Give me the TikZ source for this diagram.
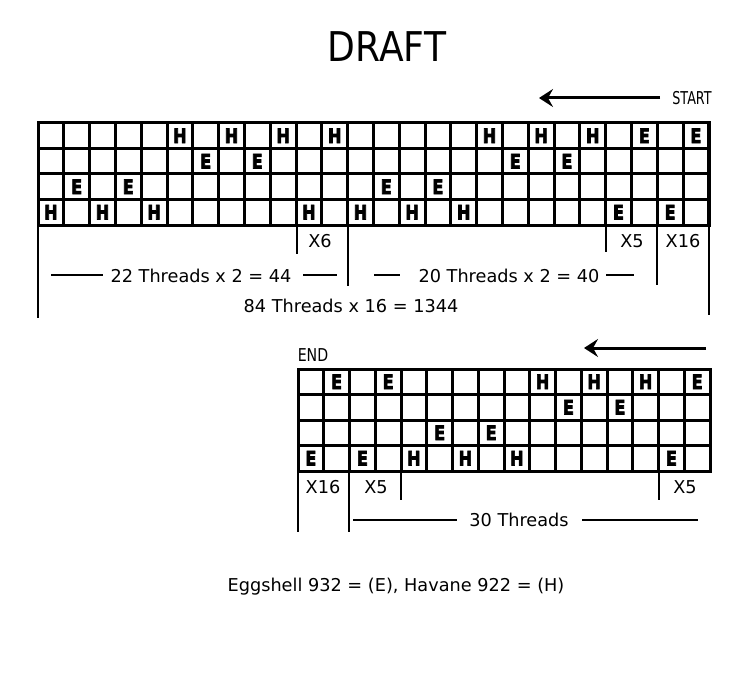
\documentclass[tikz,border=0pt]{standalone}
\usepackage{fontspec}
\setmainfont{DejaVu Sans}
\newfontfamily\blockfont{DejaVu Sans}[BoldFeatures={FakeBold=4}]
\usetikzlibrary{arrows.meta}
\begin{document}
\begin{tikzpicture}[x=1pt,y=-1pt,
  gridline/.style={line width=3pt},
  thin/.style={line width=1.2pt},
  lbl/.style={font=\fontsize{17.7}{20}\selectfont, inner sep=0pt},
  letter/.style={font=\fontsize{20}{20}\selectfont\blockfont\bfseries, inner sep=0pt, xscale=0.8},
  dirarrow/.style={line width=3pt, -{Stealth[length=14pt,width=18pt,inset=5pt]}}]
\useasboundingbox (0,0) rectangle (751,676);
\fill[white] (0,0) rectangle (751,676);
% title
\node[font=\fontsize{41}{44}\selectfont, inner sep=0pt, xscale=0.88] (title) at (387,47) {DRAFT};
\node[lbl, xscale=0.72] (start) at (692,98) {START};
\coordinate (a1s) at (660,98);
\coordinate (a1e) at (539,98);
\draw[dirarrow] (a1s) -- (a1e);
% top grid
\foreach \i in {0,...,26} \draw[gridline] ({38+\i*25.8},123) -- ({38+\i*25.8},225);
\foreach \j in {0,...,4} \draw[gridline] (38,{123+\j*25.5}) -- (709,{123+\j*25.5});
\draw[gridline, line join=miter] (38,123) rectangle (709,225);
\foreach \c/\r/\t in {6/1/H,8/1/H,10/1/H,12/1/H,18/1/H,20/1/H,22/1/H,24/1/E,26/1/E,
  7/2/E,9/2/E,19/2/E,21/2/E,
  2/3/E,4/3/E,14/3/E,16/3/E,
  1/4/H,3/4/H,5/4/H,11/4/H,13/4/H,15/4/H,17/4/H,23/4/E,25/4/E}
  \node[letter] (top-\c-\r) at ({38+(\c-0.5)*25.8},{123+(\r-0.5)*25.5}) {\t};
% top dimension lines
\draw[thin] (38,225) -- (38,318);
\draw[thin] (297,225) -- (297,254);
\draw[thin] (348,225) -- (348,286);
\draw[thin] (606,225) -- (606,252);
\draw[thin] (657,225) -- (657,285);
\draw[thin] (709,225) -- (709,315);
\node[lbl] (x6) at (320,241) {X6};
\node[lbl] (x5a) at (632,241) {X5};
\node[lbl] (x16a) at (683,241) {X16};
\draw[thin] (51,275) -- (103,275);
\draw[thin] (303,275) -- (337,275);
\node[lbl] (t22) at (201,276) {22 Threads x 2 = 44};
\draw[thin] (374,275) -- (400,275);
\draw[thin] (606,275) -- (634,275);
\node[lbl] (t20) at (509,276) {20 Threads x 2 = 40};
\node[lbl] (t84) at (351,306) {84 Threads x 16 = 1344};
% bottom
\node[lbl, xscale=0.8] (endl) at (313,355) {END};
\coordinate (a2s) at (706,348);
\coordinate (a2e) at (584,348);
\draw[dirarrow] (a2s) -- (a2e);
\foreach \i in {0,...,16} \draw[gridline] ({298+\i*25.75},369) -- ({298+\i*25.75},471);
\foreach \j in {0,...,4} \draw[gridline] (298,{369+\j*25.5}) -- (710,{369+\j*25.5});
\draw[gridline, line join=miter] (298,369) rectangle (710,471);
\foreach \c/\r/\t in {2/1/E,4/1/E,10/1/H,12/1/H,14/1/H,16/1/E,
  11/2/E,13/2/E,
  6/3/E,8/3/E,
  1/4/E,3/4/E,5/4/H,7/4/H,9/4/H,15/4/E}
  \node[letter] (bot-\c-\r) at ({298+(\c-0.5)*25.75},{369+(\r-0.5)*25.5}) {\t};
\draw[thin] (298,471) -- (298,532);
\draw[thin] (349,471) -- (349,532);
\draw[thin] (401,471) -- (401,500);
\draw[thin] (659,471) -- (659,500);
\node[lbl] (x16b) at (323,487) {X16};
\node[lbl] (x5b) at (376,487) {X5};
\node[lbl] (x5c) at (685,487) {X5};
\draw[thin] (353,520) -- (457,520);
\draw[thin] (582,520) -- (698,520);
\node[lbl] (t30) at (519,520) {30 Threads};
\node[lbl] (legend) at (396,587) {Eggshell 932 = (E), Havane 922 = (H)};
\end{tikzpicture}
\end{document}
